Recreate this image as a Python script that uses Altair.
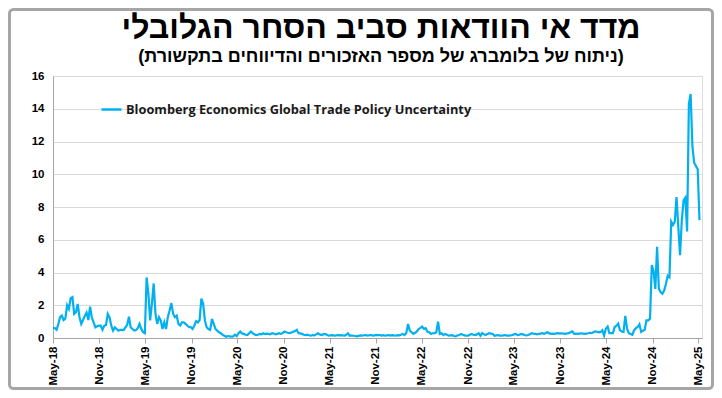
import altair as alt
import pandas as pd

# Weekly index values (Bloomberg Economics Global Trade Policy Uncertainty)
vals_2018 = [0.6, 0.6, 0.5, 0.85, 1.27, 1.37, 1.1, 1.2, 2.0, 1.78, 2.43, 2.5, 1.47,
             1.57, 2.08, 1.27, 0.86, 1.1, 1.35, 1.55, 1.1, 1.92, 1.25, 0.95, 0.65, 0.72,
             0.75, 0.75, 0.5, 0.75, 0.8, 1.47, 1.27, 0.75, 0.45, 0.65, 0.55, 0.45, 0.5,
             0.5, 0.48, 0.65, 0.8, 1.3, 0.65, 0.55, 0.45, 0.48, 0.6]
vals_2019 = [0.86, 0.55, 0.35, 0.29, 3.7, 2.7, 1.07, 2.1, 3.33, 1.48, 0.86, 1.27, 1.07,
             0.55, 0.96, 0.55, 1.27, 1.68, 2.13, 1.48, 1.27, 1.37, 0.86, 0.76, 0.96, 0.96,
             0.86, 0.76, 0.66, 0.66, 0.55, 0.75, 1.03, 0.95, 1.1, 2.4, 2.1, 1.07, 0.66,
             0.55, 0.5, 1.17, 0.86, 0.55, 0.45, 0.35, 0.29, 0.2, 0.14, 0.08, 0.12, 0.1,
             0.08, 0.1, 0.2, 0.12, 0.3, 0.4, 0.28]
vals_2020_21 = [0.25, 0.2, 0.18, 0.28, 0.4, 0.3, 0.22, 0.18, 0.2, 0.25, 0.22, 0.29, 0.24,
                0.27, 0.25, 0.22, 0.3, 0.27, 0.22, 0.25, 0.29, 0.25, 0.3, 0.4, 0.35, 0.32,
                0.3, 0.34, 0.38, 0.42, 0.5, 0.29, 0.28, 0.25, 0.2, 0.18, 0.2, 0.17, 0.14,
                0.18, 0.16, 0.22, 0.29, 0.22, 0.18, 0.22, 0.25, 0.2, 0.14, 0.16, 0.18, 0.16,
                0.15, 0.18, 0.16, 0.18, 0.16, 0.14, 0.2, 0.29, 0.14, 0.16, 0.14, 0.12, 0.1,
                0.13, 0.16, 0.15, 0.17, 0.18, 0.15, 0.17, 0.18, 0.15, 0.16, 0.19, 0.17, 0.18,
                0.15, 0.17, 0.14, 0.16, 0.18, 0.15, 0.17, 0.16, 0.14, 0.17, 0.16, 0.2, 0.25,
                0.18, 0.3, 0.86, 0.45, 0.35, 0.25, 0.32, 0.4, 0.55, 0.62, 0.7, 0.55, 0.6]
vals_2022_24 = [0.38, 0.35, 0.25, 0.29, 0.3, 0.35, 1.0, 0.25, 0.29, 0.18, 0.25, 0.2, 0.14,
                0.16, 0.18, 0.12, 0.1, 0.16, 0.18, 0.25, 0.2, 0.16, 0.15, 0.14, 0.2, 0.25,
                0.2, 0.18, 0.22, 0.29, 0.14, 0.3, 0.22, 0.18, 0.25, 0.3, 0.27, 0.25, 0.14,
                0.16, 0.18, 0.15, 0.14, 0.16, 0.18, 0.15, 0.14, 0.16, 0.18, 0.22, 0.25, 0.18,
                0.2, 0.25, 0.22, 0.18, 0.16, 0.18, 0.22, 0.3, 0.27, 0.25, 0.22, 0.25, 0.27,
                0.29, 0.25, 0.3, 0.35, 0.28, 0.25, 0.27, 0.25, 0.28, 0.3, 0.27, 0.29, 0.27,
                0.25, 0.28, 0.3, 0.35, 0.4, 0.25, 0.27, 0.25, 0.27, 0.29, 0.27, 0.25, 0.27,
                0.29, 0.32, 0.3, 0.35, 0.4, 0.38, 0.35]
vals_2024_25 = [0.37, 0.47, 0.16, 0.57, 0.7, 0.3, 0.3, 0.3, 0.67, 0.75, 0.88, 0.47, 0.4,
                0.37, 1.35, 0.57, 0.3, 0.25, 0.2, 0.47, 0.6, 0.67, 0.84, 0.37, 0.45, 0.5,
                1.08, 1.08, 1.18, 4.45, 4.1, 3.0, 5.57, 3.0, 2.8, 2.7, 2.9, 3.3, 3.8,
                3.7, 7.1, 6.9, 7.1, 8.6, 6.8, 5.06, 7.2, 8.4, 8.57, 6.5, 14.3, 14.9,
                11.7, 10.7, 10.5, 10.3, 7.2]

series_name = "Bloomberg Economics Global Trade Policy Uncertainty"
start_date = "2018-05-01"
tick_months = [(2018, 5), (2018, 11), (2019, 5), (2019, 11), (2020, 5), (2020, 11),
               (2021, 5), (2021, 11), (2022, 5), (2022, 11), (2023, 5), (2023, 11),
               (2024, 5), (2024, 11), (2025, 5)]
y_ticks = [0, 2, 4, 6, 8, 10, 12, 14, 16]

title_text = "מדד אי הוודאות סביב הסחר הגלובלי"
subtitle_text = "(ניתוח של בלומברג של מספר האזכורים והדיווחים בתקשורת)"

values = vals_2018 + vals_2019 + vals_2020_21 + vals_2022_24 + vals_2024_25
dates = pd.date_range(start_date, periods=len(values), freq="7D").strftime("%Y-%m-%d")
df = pd.DataFrame({"date": dates, "value": values, "series": series_name})

W, H = 649, 262
FONT = "Liberation Sans"

tick_vals = [alt.DateTime(year=y, month=m, date=1, utc=True) for y, m in tick_months]

line = alt.Chart(df).mark_line(strokeWidth=2.2).encode(
    x=alt.X("date:T",
            scale=alt.Scale(type="utc",
                            domain=[alt.DateTime(year=2018, month=5, date=1, utc=True),
                                    alt.DateTime(year=2025, month=5, date=16, utc=True)]),
            axis=alt.Axis(values=tick_vals, format="%b-%y", labelAngle=270,
                          labelAlign="right", labelBaseline="middle", grid=False,
                          tickColor="#A6A6A6", tickSize=5, domainColor="#A6A6A6",
                          labelFont=FONT, labelFontSize=11.5, labelFontWeight="bold",
                          labelColor="black", labelPadding=3, labelOverlap=False,
                          labelFlush=False, title=None)),
    y=alt.Y("value:Q",
            scale=alt.Scale(domain=[0, 16], nice=False),
            axis=alt.Axis(values=y_ticks, grid=True, gridColor="#D9D9D9", ticks=False,
                          domainColor="#A6A6A6", labelFont=FONT, labelFontSize=11.5,
                          labelFontWeight="bold", labelColor="black", labelPadding=9,
                          title=None)),
    color=alt.Color("series:N", scale=alt.Scale(range=["#00B0F0"]),
                    legend=alt.Legend(title=None, orient="none", legendX=47, legendY=22,
                                      symbolType="stroke", symbolSize=400,
                                      symbolStrokeWidth=2.5, labelFont="Open Sans",
                                      labelFontSize=12.8, labelFontWeight="bold",
                                      labelColor="#1a1a1a", padding=0, labelOffset=3,
                                      labelLimit=600)),
)

border = alt.Chart(alt.Data(values=[{"a": 1}])).mark_rect(
    filled=False, stroke="#A6A6A6", strokeWidth=3, cornerRadius=4
).encode(x=alt.value(-43.5), x2=alt.value(659.5), y=alt.value(-66.5), y2=alt.value(312.5))

title_mark = alt.Chart(alt.Data(values=[{"t": title_text}])).mark_text(
    font=FONT, fontSize=32, fontWeight="bold", color="black", align="center",
    baseline="alphabetic"
).encode(text="t:N", x=alt.value(328), y=alt.value(-38))

subtitle_mark = alt.Chart(alt.Data(values=[{"t": subtitle_text}])).mark_text(
    font=FONT, fontSize=18, fontWeight="bold", color="black", align="center",
    baseline="alphabetic"
).encode(text="t:N", x=alt.value(328), y=alt.value(-14))

chart = alt.layer(border, title_mark, subtitle_mark, line).properties(
    width=W, height=H,
    autosize=alt.AutoSizeParams(type="none"),
    padding={"left": 45, "top": 68, "right": 12, "bottom": 52},
).configure_view(stroke=None).configure(background="white")

chart.save("out.html", embed_options={"renderer": "svg", "actions": False})
